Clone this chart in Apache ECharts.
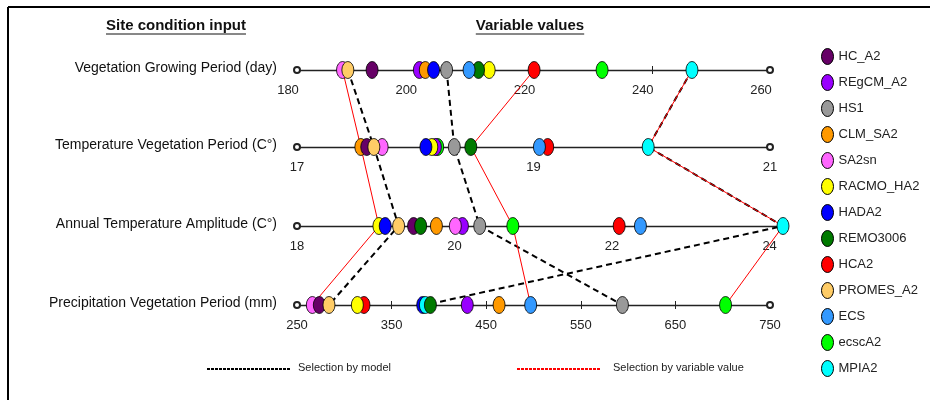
<!DOCTYPE html>
<html>
<head>
<meta charset="utf-8">
<script src="https://cdn.jsdelivr.net/npm/echarts@6/dist/echarts.min.js"></script>
<style>
html,body{margin:0;padding:0;background:#fff;}
#chart{width:930px;height:400px;}
</style>
</head>
<body>
<div id="chart"></div>
<script>
var FONT = 'Liberation Sans, Arial, sans-serif';

// models, legend order
var models = ['HC_A2','REgCM_A2','HS1','CLM_SA2','SA2sn','RACMO_HA2','HADA2','REMO3006','HCA2','PROMES_A2','ECS','ecscA2','MPIA2'];
var modelColors = ['#660066','#9900ff','#999999','#ff9900','#ff66ff','#ffff00','#0000ff','#007a00','#ff0000','#ffcc66','#3399ff','#00ff00','#00ffff'];
// which ellipse sits on top of which (bottom first)
var drawOrder = ['ecscA2','HCA2','REgCM_A2','SA2sn','CLM_SA2','HC_A2','PROMES_A2','RACMO_HA2','HADA2','MPIA2','REMO3006','ECS','HS1'];

var rowNames = ['Vegetation Growing Period (day)','Temperature Vegetation Period (C°)','Annual Temperature Amplitude (C°)','Precipitation Vegetation Period (mm)'];

// values, same order as models
var growingDays = [192.7, 200.7, 205.3, 201.7, 187.7, 212.5, 203.1, 210.7, 220.1, 188.6, 209.1, 231.6, 246.8];
var tempVeg     = [17.59, 18.17, 18.33, 17.54, 17.72, 18.14, 18.09, 18.47, 19.12, 17.65, 19.05, 18.19, 19.97];
var tempAmp     = [19.48, 20.10, 20.32, 19.77, 20.01, 19.04, 19.12, 19.57, 22.09, 19.29, 22.36, 20.74, 24.17];
var precVeg     = [273.6, 430, 594, 463.6, 266.2, 313.8, 382.9, 391, 320.8, 283.8, 497, 703, 385.7];
var rowValues = [growingDays, tempVeg, tempAmp, precVeg];

// axes
var axisMin = [180, 17, 18, 250];
var axisMax = [260, 21, 24.17, 750];
var labelValues = [[180,200,220,240,260],[17,19,21],[18,20,22,24],[250,350,450,550,650,750]];
var tickValues = [[240],[],[],[350,450,550,650]];

// selections
var byModel = ['PROMES_A2','HS1','MPIA2'];
var byValue = [
	['SA2sn','CLM_SA2','RACMO_HA2','SA2sn'],
	['HCA2','REMO3006','ecscA2','ECS'],
	['MPIA2','MPIA2','MPIA2','ecscA2']
];

var rowY = [70, 147, 226, 305];
var axisRight = [770, 770, 783, 770];
var gridLeft = 297;

var grids = [], xAxes = [], yAxes = [], series = [];
for (var r = 0; r < 4; r++) {
	grids.push({left: gridLeft, width: axisRight[r] - gridLeft, top: rowY[r] - 20, height: 20});
	yAxes.push({gridIndex: r, type: 'value', min: 0, max: 1, show: false});
	xAxes.push({
		gridIndex: r, type: 'value', position: 'bottom',
		min: axisMin[r], max: axisMax[r],
		splitLine: {show: false},
		axisLine: {
			show: true,
			symbol: r == 2 ? ['emptyCircle', 'none'] : ['emptyCircle', 'emptyCircle'],
			symbolSize: [6, 6],
			lineStyle: {color: '#222', width: 1.3}
		},
		axisTick: {show: tickValues[r].length > 0, customValues: tickValues[r], length: 4, lineStyle: {color: '#222'}},
		axisLabel: {
			customValues: labelValues[r], fontSize: 13, color: '#222', fontFamily: FONT, margin: 14,
			padding: r == 0 ? [0, 18, 0, 0] : 0
		}
	});
	for (var i = 0; i < models.length; i++) {
		series.push({
			type: 'scatter', name: models[i],
			xAxisIndex: r, yAxisIndex: r,
			data: [[rowValues[r][i], 0]],
			symbol: 'circle', symbolSize: [12, 17],
			itemStyle: {color: modelColors[i], borderColor: '#000', borderWidth: 0.8, opacity: 1},
			z: 3 + drawOrder.indexOf(models[i]),
			clip: false, silent: true
		});
	}
}
// inward half of the crossing ticks
[0, 3].forEach(function(r) {
	xAxes.push({
		gridIndex: r, type: 'value', position: 'bottom',
		min: axisMin[r], max: axisMax[r],
		splitLine: {show: false}, axisLine: {show: false}, axisLabel: {show: false},
		axisTick: {show: true, inside: true, customValues: tickValues[r], length: 4, lineStyle: {color: '#222'}}
	});
});

var ctx = document.createElement('canvas').getContext('2d');
function textWidth(txt, font) { ctx.font = font; return ctx.measureText(txt).width; }

var graphics = [
	{type: 'line', shape: {x1: 8, y1: 7, x2: 930, y2: 7}, style: {stroke: '#000', lineWidth: 2}},
	{type: 'line', shape: {x1: 8, y1: 7, x2: 8, y2: 400}, style: {stroke: '#000', lineWidth: 2}}
];
[['Site condition input', 176], ['Variable values', 530]].forEach(function(h) {
	var w = textWidth(h[0], 'bold 15px ' + FONT);
	graphics.push({type: 'text', x: h[1], y: 26, style: {text: h[0], font: 'bold 15px ' + FONT, fill: '#111', align: 'center', verticalAlign: 'middle'}});
	graphics.push({type: 'line', shape: {x1: h[1] - w / 2, y1: 34, x2: h[1] + w / 2, y2: 34}, style: {stroke: '#111', lineWidth: 1}});
});
rowNames.forEach(function(n, r) {
	graphics.push({type: 'text', x: 277, y: rowY[r] - 2, style: {text: n, font: '14px ' + FONT, fill: '#111', align: 'right', verticalAlign: 'middle'}});
});
graphics.push({type: 'line', shape: {x1: 207, y1: 369, x2: 290, y2: 369}, style: {stroke: '#000', lineWidth: 2, lineDash: [3, 1]}});
graphics.push({type: 'text', x: 298, y: 368, style: {text: 'Selection by model', font: '11px ' + FONT, fill: '#222', verticalAlign: 'middle'}});
graphics.push({type: 'line', shape: {x1: 517, y1: 369, x2: 600, y2: 369}, style: {stroke: '#ff0000', lineWidth: 2, lineDash: [3, 1]}});
graphics.push({type: 'text', x: 613, y: 368, style: {text: 'Selection by variable value', font: '11px ' + FONT, fill: '#222', verticalAlign: 'middle'}});

var option = {
	animation: false,
	backgroundColor: '#fff',
	grid: grids,
	xAxis: xAxes,
	yAxis: yAxes,
	legend: {
		orient: 'vertical', left: 816, top: 43,
		itemWidth: 12, itemHeight: 16, itemGap: 9,
		icon: 'path://M0,-10A10,10,0,1,1,0,10A10,10,0,1,1,0,-10Z',
		symbolKeepAspect: false,
		itemStyle: {borderColor: '#000', borderWidth: 1},
		selectedMode: false,
		data: models,
		textStyle: {fontFamily: FONT, fontSize: 13, color: '#222'}
	},
	series: series,
	graphic: graphics
};

var myChart = echarts.init(document.getElementById('chart'));
myChart.setOption(option);

// selection lines, placed through the axes' own scales
function pt(r, name) {
	var i = models.indexOf(name);
	return myChart.convertToPixel({gridIndex: r}, [rowValues[r][i], 0]);
}
var lines = [];
byModel.forEach(function(m) {
	var pts = [0, 1, 2, 3].map(function(r) { return pt(r, m); });
	lines.push({type: 'polyline', z: 1, silent: true, shape: {points: pts}, style: {stroke: '#000', lineWidth: 2, lineDash: [6, 4], fill: null}});
});
byValue.forEach(function(path) {
	var pts = path.map(function(m, r) { return pt(r, m); });
	lines.push({type: 'polyline', z: 1, silent: true, shape: {points: pts}, style: {stroke: '#ff0000', lineWidth: 1, fill: null}});
});
myChart.setOption({graphic: graphics.concat(lines)});
</script>
</body>
</html>
